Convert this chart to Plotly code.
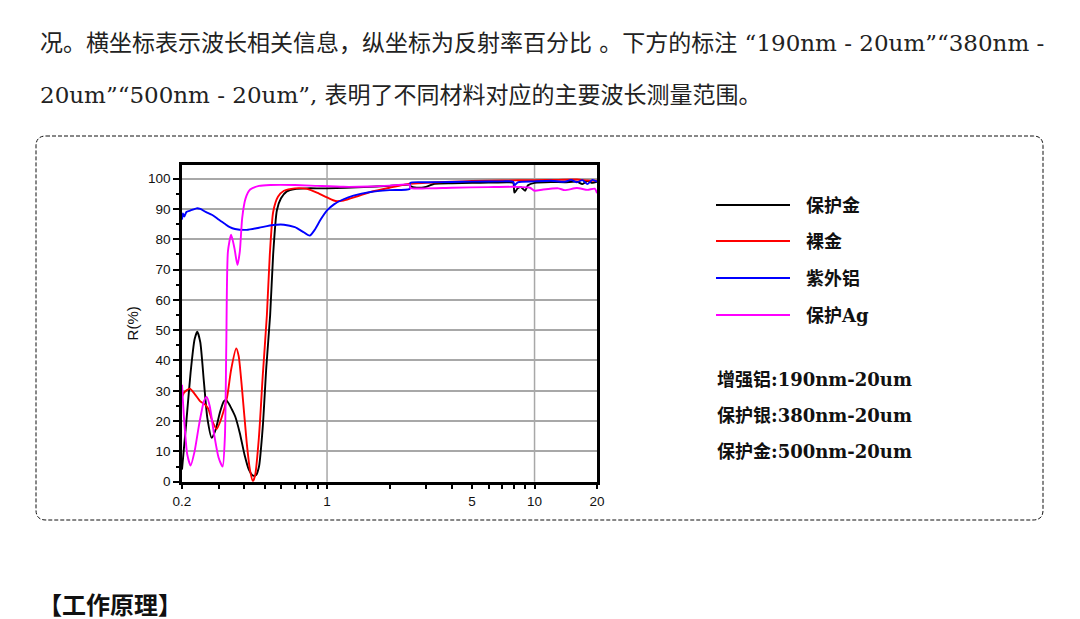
import math
import plotly.graph_objects as go

# ---------------- data (wavelength in um, reflectance in %) ----------------
series_names = ["保护金", "裸金", "紫外铝", "保护Ag"]
series_colors = ["#000000", "#ff0000", "#0000ff", "#ff00ff"]

black_x = [0.2, 0.21, 0.22, 0.23, 0.237, 0.245, 0.255, 0.265, 0.278, 0.29, 0.305, 0.318, 0.326, 0.338,
           0.35, 0.361, 0.38, 0.4, 0.42, 0.44, 0.455, 0.47, 0.49, 0.51, 0.532, 0.55, 0.573, 0.6, 0.64,
           0.7, 0.8, 1.0, 1.5, 2.0, 2.5, 2.52, 2.7, 3.0, 3.3, 4, 5, 6, 7.5, 7.9, 8.0, 8.3, 8.6, 9.0,
           9.3, 10, 12, 14, 16, 17, 18, 19, 20]
black_y = [4, 20, 36, 47, 49.5, 46, 33, 21, 14.5, 17, 23, 26.5, 27, 25.5,
           23.5, 21.5, 16, 9, 4, 2, 2.2, 5, 18, 38, 55, 75, 89.5, 93.5, 95.8,
           96.6, 96.8, 96.8, 97.2, 97.6, 98.0, 97.6, 97.0, 97.3, 98.3, 98.5, 98.6, 98.7, 98.8, 98.6, 95.4,
           96.8, 97.2, 96.0, 97.8, 98.6, 98.9, 98.8, 99.0, 98.2, 99.2, 98.6, 99.0]

red_x = [0.2, 0.205, 0.218, 0.23, 0.245, 0.258, 0.268, 0.28, 0.294, 0.31, 0.33, 0.345, 0.365, 0.375,
         0.39, 0.41, 0.425, 0.439, 0.45, 0.47, 0.49, 0.513, 0.53, 0.55, 0.58, 0.62, 0.7, 0.8, 0.9,
         1.0, 1.1, 1.2, 1.4, 1.62, 2.0, 2.5, 3, 4, 5, 7, 10, 13, 16, 18, 20]
red_y = [28, 29.5, 30.7, 29, 26.5, 25.5, 24, 20, 17.4, 21, 28, 37, 44, 41.5,
         30, 13, 4, 0.2, 2, 15, 35, 55, 75, 89, 94, 96, 96.8, 96.6, 95.3,
         93.8, 92.6, 92.8, 94.2, 95.6, 97.0, 98.3, 98.6, 99.0, 99.2, 99.4, 99.5, 99.6, 99.7, 99.4, 99.3]

blue_x = [0.2, 0.202, 0.205, 0.21, 0.22, 0.235, 0.245, 0.26, 0.28, 0.3, 0.32, 0.34, 0.36, 0.41, 0.47,
          0.55, 0.62, 0.7, 0.76, 0.825, 0.87, 0.93, 1.0, 1.08, 1.2, 1.34, 1.62, 2.0, 2.5, 2.52, 3, 4,
          5, 7, 7.9, 8.0, 8.3, 10, 12, 14, 15, 16, 17, 18, 19, 20]
blue_y = [86.5, 88.5, 87.5, 89, 89.5, 90.2, 90, 89, 88, 86.5, 85.2, 84, 83.4, 83.1, 83.8,
          84.7, 84.8, 84.0, 82.6, 81.2, 83, 86.4, 89.5, 91.5, 93.2, 94.4, 95.6, 96.2, 96.6, 98.6, 98.8, 98.9,
          99.0, 99.1, 99.0, 97.8, 98.8, 99.1, 99.3, 99.0, 99.6, 98.8, 99.5, 98.2, 99.6, 99.0]

mag_x = [0.2, 0.205, 0.212, 0.22, 0.23, 0.242, 0.255, 0.263, 0.272, 0.285, 0.3, 0.314, 0.322, 0.327,
         0.333, 0.345, 0.358, 0.37, 0.38, 0.39, 0.405, 0.426, 0.47, 0.532, 0.7, 0.9, 1.2, 1.6, 2.0,
         2.5, 2.52, 3, 4, 6, 8, 9.5, 10, 11, 13, 14, 16, 18, 19.5, 20]
mag_y = [32, 20, 9, 5.3, 10, 19, 26.5, 28, 25, 16, 8, 5, 15, 45,
         76, 81.5, 77, 71.5, 76, 87, 93.5, 96.4, 97.6, 97.9, 97.9, 97.6, 97.3, 97.4, 97.7,
         98.0, 96.9, 96.8, 97.0, 97.2, 97.3, 97.0, 96.0, 96.4, 96.8, 96.2, 96.9, 96.3, 96.7, 95.2]

x_tick_vals = [0.2, 1, 5, 10, 20]
x_tick_text = ["0.2", "1", "5", "10", "20"]
x_minor_vals = [0.3, 0.4, 0.5, 0.6, 0.7, 0.8, 0.9, 2, 3, 4, 6, 7, 8, 9]
x_grid_vals = [1, 10]

range_notes = ["增强铝:190nm-20um", "保护银:380nm-20um", "保护金:500nm-20um"]
para_line1 = "况。横坐标表示波长相关信息，纵坐标为反射率百分比 。下方的标注 “190nm - 20um”“380nm -"
para_line2 = "20um”“500nm - 20um”, 表明了不同材料对应的主要波长测量范围。"
heading = "【工作原理】"

# ---------------- figure ----------------
# the page body has an 8px margin, so the figure is 8px smaller and positions are shifted
OFF = 8
W, H = 1080 - OFF, 619 - OFF
def px(x):
    return (x - OFF) / W
def py(y):
    return 1 - (y - OFF) / H

all_x = [black_x, red_x, blue_x, mag_x]
all_y = [black_y, red_y, blue_y, mag_y]

fig = go.Figure()
for name, col, xs, ys in zip(series_names, series_colors, all_x, all_y):
    fig.add_trace(go.Scatter(x=xs, y=ys, mode="lines", name=name, showlegend=False,
                             line=dict(color=col, width=1.9, shape="spline", smoothing=0.6)))

tick_font = dict(family="Liberation Sans, Arial", size=13.5, color="#111")
fig.update_xaxes(type="log", range=[math.log10(0.2), math.log10(20)],
                 domain=[px(182), px(597)], automargin=False,
                 tickvals=x_tick_vals, ticktext=x_tick_text, tickfont=tick_font,
                 ticks="outside", ticklen=5, tickwidth=2, tickcolor="#000",
                 minor=dict(tickvals=x_minor_vals, ticks="outside", ticklen=5, tickwidth=2,
                            tickcolor="#000", showgrid=False),
                 showgrid=False, zeroline=False,
                 showline=True, linecolor="#000", linewidth=2.5, mirror=True)
fig.update_yaxes(range=[0, 104.5], domain=[py(481.7), py(165)], automargin=False,
                 dtick=10, tick0=0, tickfont=tick_font,
                 ticks="outside", ticklen=6, tickwidth=2, tickcolor="#000",
                 minor=dict(dtick=5, ticks="outside", ticklen=3, tickwidth=2, tickcolor="#000",
                            showgrid=False),
                 showgrid=True, gridcolor="#a8a8a8", gridwidth=1.5, zeroline=False,
                 showline=True, linecolor="#000", linewidth=2.5, mirror=True,
                 title=dict(text="R(%)", font=dict(family="Liberation Sans, Arial", size=15, color="#111"),
                            standoff=6))

shapes = []
for gx in x_grid_vals:
    shapes.append(dict(type="line", xref="x", yref="y domain", x0=gx, x1=gx, y0=0, y1=1,
                       line=dict(color="#a8a8a8", width=1.5), layer="below"))

# dashed rounded frame
x0, x1, y0, y1 = px(36), px(1043), py(520), py(136)
rx, ry = 10 / W, 10 / H
path = (f"M {x0+rx},{y1} L {x1-rx},{y1} Q {x1},{y1} {x1},{y1-ry} "
        f"L {x1},{y0+ry} Q {x1},{y0} {x1-rx},{y0} L {x0+rx},{y0} Q {x0},{y0} {x0},{y0+ry} "
        f"L {x0},{y1-ry} Q {x0},{y1} {x0+rx},{y1} Z")
shapes.append(dict(type="path", xref="paper", yref="paper", path=path,
                   line=dict(color="#111", width=1, dash="4px,2px")))

# custom legend
legend_ys = [205, 241, 278, 315]
annotations = []
lab_font = dict(family="DejaVu Serif, Noto Sans CJK SC", size=18, color="#111")
for name, col, ly in zip(series_names, series_colors, legend_ys):
    shapes.append(dict(type="line", xref="paper", yref="paper", x0=px(716), x1=px(790),
                       y0=py(ly), y1=py(ly), line=dict(color=col, width=2)))
    annotations.append(dict(xref="paper", yref="paper", x=px(804), y=py(ly), text=f"<b>{name}</b>",
                            showarrow=False, xanchor="left", yanchor="middle", font=lab_font))
for note, ny in zip(range_notes, [379, 415, 451]):
    annotations.append(dict(xref="paper", yref="paper", x=px(715), y=py(ny), text=f"<b>{note}</b>",
                            showarrow=False, xanchor="left", yanchor="middle", font=lab_font))

para_font = dict(family="DejaVu Serif, Noto Sans CJK SC", size=23, color="#222")
annotations.append(dict(xref="paper", yref="paper", x=px(38), y=py(43), text=para_line1,
                        showarrow=False, xanchor="left", yanchor="middle", font=para_font))
annotations.append(dict(xref="paper", yref="paper", x=px(38), y=py(95), text=para_line2,
                        showarrow=False, xanchor="left", yanchor="middle", font=para_font))
annotations.append(dict(xref="paper", yref="paper", x=px(36), y=py(605), text=f"<b>{heading}</b>",
                        showarrow=False, xanchor="left", yanchor="middle",
                        font=dict(family="DejaVu Serif, Noto Sans CJK SC", size=24, color="#111")))

fig.update_layout(width=W, height=H, margin=dict(l=0, r=0, t=0, b=0, pad=0, autoexpand=False),
                  paper_bgcolor="white", plot_bgcolor="white",
                  shapes=shapes, annotations=annotations, showlegend=False)

fig.write_html("out.html")
